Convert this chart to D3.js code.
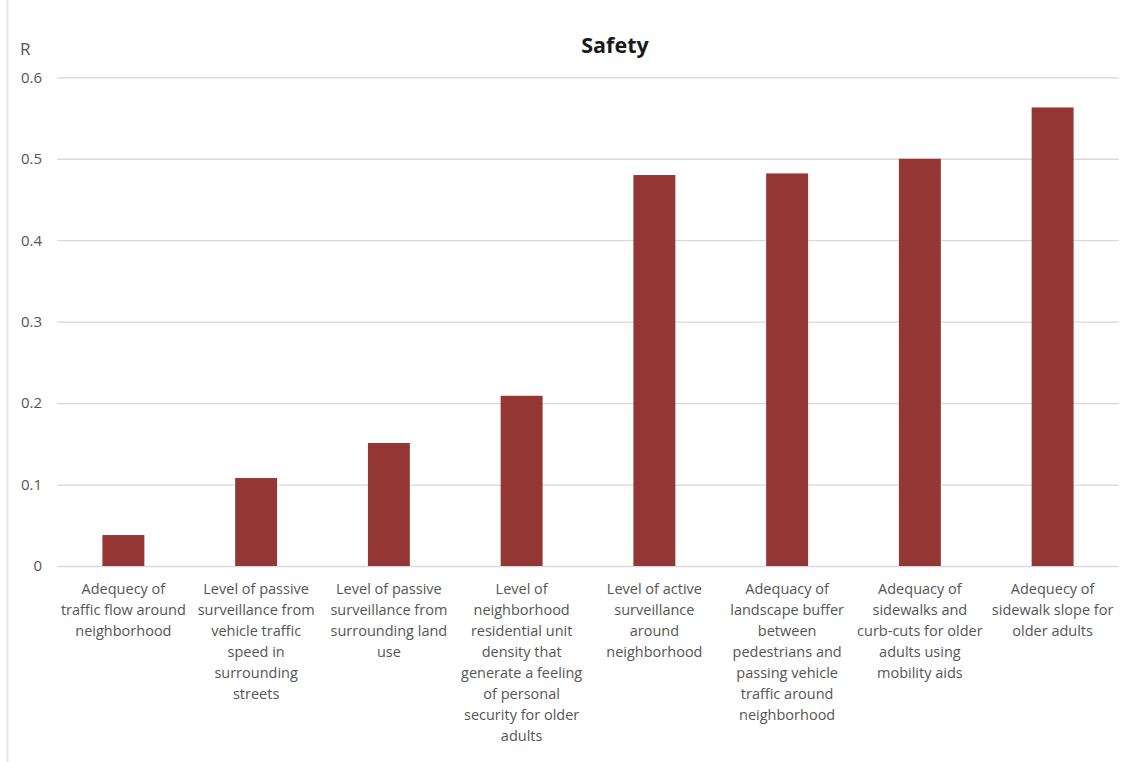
<!DOCTYPE html>
<html>
<head>
<meta charset="utf-8">
<script src="https://cdn.jsdelivr.net/npm/d3@7/dist/d3.min.js"></script>
<style>
  html, body { margin: 0; padding: 0; background: #ffffff; }
  svg { display: block; }
</style>
</head>
<body>
<svg id="chart" width="1129" height="762"></svg>
<script>
// ---- Data ----
const title = "Safety";
const yAxisLabel = "R";
const categories = [
  "Adequecy of\ntraffic flow around\nneighborhood",
  "Level of passive\nsurveillance from\nvehicle traffic\nspeed in\nsurrounding\nstreets",
  "Level of passive\nsurveillance from\nsurrounding land\nuse",
  "Level of\nneighborhood\nresidential unit\ndensity that\ngenerate a feeling\nof personal\nsecurity for older\nadults",
  "Level of active\nsurveillance\naround\nneighborhood",
  "Adequacy of\nlandscape buffer\nbetween\npedestrians and\npassing vehicle\ntraffic around\nneighborhood",
  "Adequacy of\nsidewalks and\ncurb-cuts for older\nadults using\nmobility aids",
  "Adequecy of\nsidewalk slope for\nolder adults"
];
const values = [0.038, 0.108, 0.151, 0.209, 0.480, 0.482, 0.500, 0.563];
const yTicks = [0, 0.1, 0.2, 0.3, 0.4, 0.5, 0.6];

// ---- Layout ----
const W = 1129, H = 762;
const plot = { left: 57, right: 1119, top: 77.3, bottom: 566 };
const barColor = "#943634";
const gridColor = "#d9d9d9";
const textColor = "#555555";
const font = "'Open Sans', 'Noto Sans', sans-serif";

const svg = d3.select("#chart");

// frame line at left
svg.append("line")
  .attr("x1", 7.5).attr("x2", 7.5)
  .attr("y1", 0).attr("y2", H)
  .attr("stroke", "#e3e3e3").attr("stroke-width", 2);

const x = d3.scaleBand()
  .domain(categories)
  .range([plot.left, plot.right])
  .paddingInner(0.684)
  .paddingOuter(0.342);

const y = d3.scaleLinear()
  .domain([0, 0.6])
  .range([plot.bottom, plot.top]);

// y axis with gridlines
const yAxis = d3.axisLeft(y)
  .tickValues(yTicks)
  .tickSize(-(plot.right - plot.left))
  .tickPadding(15)
  .tickFormat(d => d === 0 ? "0" : d3.format(".1f")(d));

const gY = svg.append("g")
  .attr("transform", `translate(${plot.left},0)`)
  .call(yAxis);
gY.select(".domain").remove();
gY.selectAll(".tick line")
  .attr("stroke", gridColor)
  .attr("stroke-width", 1.3);
gY.selectAll(".tick text")
  .attr("fill", textColor)
  .style("font-family", font)
  .style("font-size", "15px");

// bars
svg.append("g").selectAll("rect")
  .data(values)
  .join("rect")
  .attr("x", (d, i) => x(categories[i]))
  .attr("width", x.bandwidth())
  .attr("y", d => y(d))
  .attr("height", d => y(0) - y(d))
  .attr("fill", barColor);

// x axis labels (multi-line)
const xAxis = d3.axisBottom(x).tickSize(0).tickPadding(0).tickFormat("");
const gX = svg.append("g")
  .attr("transform", `translate(0,${plot.bottom})`)
  .call(xAxis);
gX.select(".domain").remove();
gX.selectAll(".tick").each(function(d) {
  const t = d3.select(this).append("text")
    .attr("text-anchor", "middle")
    .attr("fill", textColor)
    .style("font-family", font)
    .style("font-size", "14.5px");
  d.split("\n").forEach((line, i) => {
    t.append("tspan")
      .attr("x", 0)
      .attr("y", 28 + i * 21)
      .text(line);
  });
});

// title
svg.append("text")
  .attr("x", 615)
  .attr("y", 53)
  .attr("text-anchor", "middle")
  .attr("fill", "#1a1a1a")
  .style("font-family", font)
  .style("font-size", "21.5px")
  .style("font-weight", "bold")
  .text(title);

// y axis label
svg.append("text")
  .attr("x", 20)
  .attr("y", 55)
  .attr("fill", textColor)
  .style("font-family", font)
  .style("font-size", "17px")
  .text(yAxisLabel);
</script>
</body>
</html>
